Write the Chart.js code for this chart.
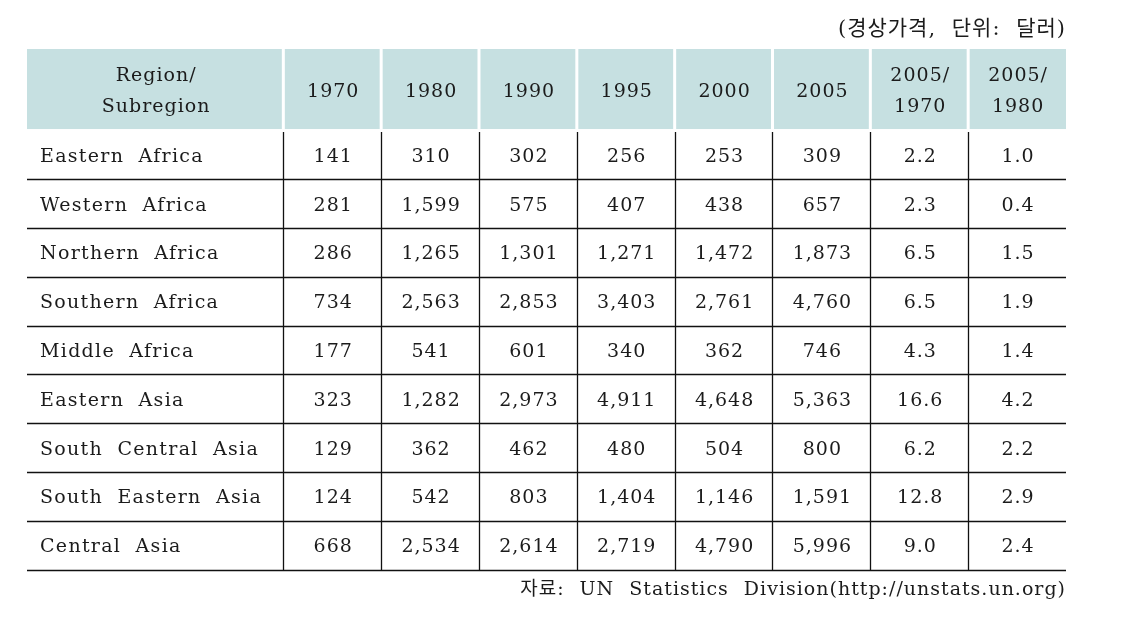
<!DOCTYPE html>
<html>
<head>
<meta charset="utf-8">
<script src="https://cdn.jsdelivr.net/npm/chart.js@4/dist/chart.umd.min.js"></script>
<style>
html, body { margin: 0; padding: 0; background: #fff; }
#wrap { width: 1146px; height: 625px; }
</style>
</head>
<body>
<div id="wrap"><canvas id="tbl"></canvas></div>
<script>
// table data
var regions = ['Eastern Africa', 'Western Africa', 'Northern Africa', 'Southern Africa', 'Middle Africa',
  'Eastern Asia', 'South Central Asia', 'South Eastern Asia', 'Central Asia'];
var headers = [['Region/', 'Subregion'], ['1970'], ['1980'], ['1990'], ['1995'], ['2000'], ['2005'],
  ['2005/', '1970'], ['2005/', '1980']];
var v1970 = [141, 281, 286, 734, 177, 323, 129, 124, 668];
var v1980 = [310, 1599, 1265, 2563, 541, 1282, 362, 542, 2534];
var v1990 = [302, 575, 1301, 2853, 601, 2973, 462, 803, 2614];
var v1995 = [256, 407, 1271, 3403, 340, 4911, 480, 1404, 2719];
var v2000 = [253, 438, 1472, 2761, 362, 4648, 504, 1146, 4790];
var v2005 = [309, 657, 1873, 4760, 746, 5363, 800, 1591, 5996];
var r2005_1970 = [2.2, 2.3, 6.5, 6.5, 4.3, 16.6, 6.2, 12.8, 9.0];
var r2005_1980 = [1.0, 0.4, 1.5, 1.9, 1.4, 4.2, 2.2, 2.9, 2.4];
var unitNote = '(경상가격, 단위: 달러)';
var sourceNote = '자료: UN Statistics Division(http://unstats.un.org)';

var columns = [v1970, v1980, v1990, v1995, v2000, v2005, r2005_1970, r2005_1980];

// layout in scale units (1 = one numeric column / one body row)
var firstW = 2.62;
var headH = 1.67;
var colEdges = [0];
for (var c = 0; c < headers.length; c++) {
  colEdges.push(colEdges[c] + (c === 0 ? firstW : 1));
}
var totalW = colEdges[colEdges.length - 1];
var totalH = headH + regions.length;

var FAMILY = "'DejaVu Serif', 'Noto Sans CJK KR', serif";
var FONT = "19px " + FAMILY;
var INK = '#1b1b1b';

function fmt(col, v) {
  if (col >= 6) return v.toFixed(1);
  return v.toLocaleString('en-US');
}

// one point per cell, so every cell goes through the scales
var cellPoints = [];
regions.forEach(function(r, i) {
  columns.forEach(function(col, j) {
    cellPoints.push({x: (colEdges[j + 1] + colEdges[j + 2]) / 2, y: headH + i + 0.5});
  });
});

var tablePlugin = {
  id: 'tableCells',
  beforeDraw: function(chart) {
    // applies to title / subtitle
    chart.ctx.letterSpacing = '1px';
    chart.ctx.wordSpacing = '8px';
  },
  afterDatasetsDraw: function(chart) {
    var ctx = chart.ctx, xs = chart.scales.x, ys = chart.scales.y;
    ctx.save();
    ctx.letterSpacing = '1px';
    ctx.wordSpacing = '0px';
    var left = xs.getPixelForValue(0), right = xs.getPixelForValue(totalW);
    var top = ys.getPixelForValue(0), headBottom = ys.getPixelForValue(headH - 0.03);

    // header band
    ctx.fillStyle = '#c6e0e1';
    ctx.fillRect(left, top, right - left, headBottom - top);
    ctx.fillStyle = '#ffffff';
    for (var c = 1; c < colEdges.length - 1; c++) {
      var gx = xs.getPixelForValue(colEdges[c]);
      ctx.fillRect(gx - 1.5, top, 3, headBottom - top);
    }

    // header text
    ctx.font = FONT;
    ctx.fillStyle = INK;
    ctx.textAlign = 'center';
    ctx.textBaseline = 'middle';
    headers.forEach(function(h, j) {
      var cx = xs.getPixelForValue((colEdges[j] + colEdges[j + 1]) / 2);
      var cy = ys.getPixelForValue(headH / 2) + 2;
      var lh = 31;
      h.forEach(function(line, k) {
        ctx.fillText(line, cx + 1, cy + (k - (h.length - 1) / 2) * lh);
      });
    });

    // body lines
    ctx.strokeStyle = '#111111';
    ctx.lineWidth = 1.3;
    ctx.beginPath();
    for (var i = 1; i <= regions.length; i++) {
      var ly = Math.round(ys.getPixelForValue(headH + i)) + 0.5;
      ctx.moveTo(left, ly);
      ctx.lineTo(right, ly);
    }
    var vTop = ys.getPixelForValue(headH + 0.03), vBottom = ys.getPixelForValue(totalH);
    for (var c2 = 1; c2 < colEdges.length - 1; c2++) {
      var lx = Math.round(xs.getPixelForValue(colEdges[c2])) + 0.5;
      ctx.moveTo(lx, vTop);
      ctx.lineTo(lx, vBottom);
    }
    ctx.stroke();

    // body text
    regions.forEach(function(r, i) {
      var cy = ys.getPixelForValue(headH + i + 0.5) + 2;
      ctx.textAlign = 'left';
      ctx.letterSpacing = '1.3px';
      ctx.wordSpacing = '7px';
      ctx.fillText(r, left + 13, cy);
      ctx.letterSpacing = '1px';
      ctx.wordSpacing = '0px';
      ctx.textAlign = 'center';
      columns.forEach(function(col, j) {
        var cx = xs.getPixelForValue((colEdges[j + 1] + colEdges[j + 2]) / 2);
        ctx.fillText(fmt(j, col[i]), cx + 1, cy);
      });
    });
    ctx.restore();
  }
};

new Chart(document.getElementById('tbl'), {
  type: 'scatter',
  data: {
    datasets: [{
      data: cellPoints,
      pointRadius: 0,
      pointHoverRadius: 0
    }]
  },
  options: {
    responsive: true,
    maintainAspectRatio: false,
    animation: false,
    layout: {padding: {left: 27, right: 80, top: 0, bottom: 0}},
    scales: {
      x: {type: 'linear', min: 0, max: totalW, display: false},
      y: {type: 'linear', min: 0, max: totalH, reverse: true, display: false}
    },
    plugins: {
      legend: {display: false},
      tooltip: {enabled: false},
      title: {
        display: true,
        text: unitNote,
        align: 'end',
        position: 'top',
        color: INK,
        font: {family: FAMILY, size: 21, weight: 'normal', lineHeight: 1.2},
        padding: {top: 17.4, bottom: 6.4}
      },
      subtitle: {
        display: true,
        text: sourceNote,
        align: 'end',
        position: 'bottom',
        color: INK,
        font: {family: FAMILY, size: 19, weight: 'normal', lineHeight: 1.2},
        padding: {top: 9.4, bottom: 23.1}
      }
    }
  },
  plugins: [tablePlugin]
});
</script>
</body>
</html>
